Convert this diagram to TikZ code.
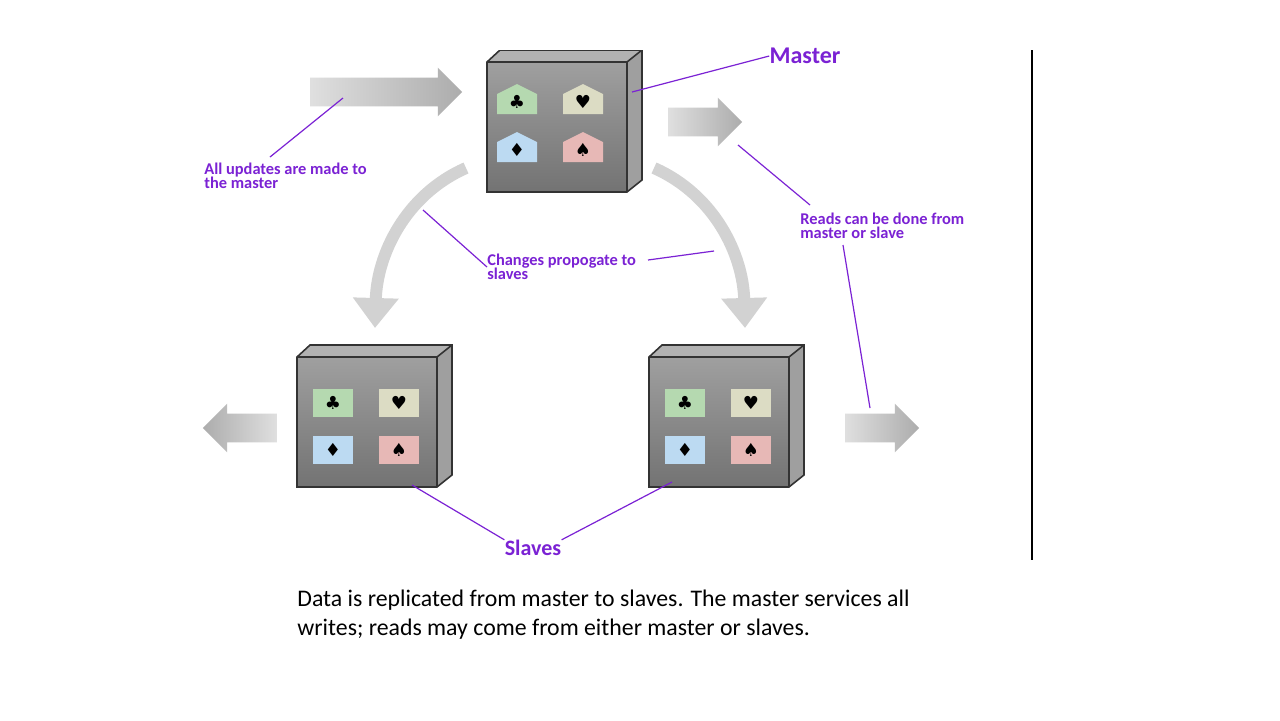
\documentclass[tikz,border=0pt]{standalone}
\usepackage{fontspec}
\setmainfont{Carlito}
\newfontfamily\suits{DejaVu Sans}
\usetikzlibrary{shapes.arrows,arrows.meta}
\definecolor{note}{HTML}{7B22D4}
\definecolor{clubc}{HTML}{B5D9B0}
\definecolor{heartc}{HTML}{DCDCC4}
\definecolor{diamc}{HTML}{BCDAF2}
\definecolor{spadec}{HTML}{E7B8B6}
\tikzset{
  card/.style={fill=#1,minimum width=20pt,minimum height=14pt,inner sep=0pt,font=\suits\fontsize{9}{9}\selectfont},
  suit/.style={font=\suits\fontsize{9}{9}\selectfont,inner sep=0pt},
  blockarrow/.style={single arrow,minimum height=37pt,inner xsep=0pt,inner ysep=7pt,
    single arrow head extend=5pt,left color=gray!25,right color=gray!65},
  flow/.style={gray!35,line width=6pt,-{Triangle[width=22pt,length=15pt]}},
  label/.style={note,font=\bfseries\fontsize{8.2}{8}\selectfont,align=left,anchor=west,inner sep=0pt},
  title/.style={note,font=\bfseries\fontsize{#1}{#1}\selectfont,inner sep=0pt},
  pointer/.style={note,line width=0.6pt}
}
% box with depth: #1 = left x, #2 = top y (front face, px)
\newcommand\databox[2]{
  \fill[gray!60] (#1,#2) -- (#1+13,#2-12) -- (#1+155,#2-12) -- (#1+140,#2) -- cycle;
  \fill[gray!75] (#1+140,#2) -- (#1+155,#2-12) -- (#1+155,#2+118) -- (#1+140,#2+130) -- cycle;
  \shade[top color=gray!75,bottom color=gray!90!black] (#1,#2) rectangle (#1+140,#2+130);
  \draw[black!80,line width=0.8pt] (#1,#2+130) -- (#1,#2) -- (#1+13,#2-12) -- (#1+155,#2-12)
    -- (#1+155,#2+118) -- (#1+140,#2+130) -- cycle (#1,#2) -- (#1+140,#2) -- (#1+140,#2+130)
    (#1+140,#2) -- (#1+155,#2-12);
}
\newcommand\house[3]{
  \fill[#3] (#1-20,#2+14) -- (#1-20,#2-6) -- (#1,#2-16) -- (#1+20,#2-6) -- (#1+20,#2+14) -- cycle;
}
\begin{document}
\begin{tikzpicture}[x=0.5pt,y=-0.5pt]
\useasboundingbox[fill=white] (0,0) rectangle (1280,720);

% master
\begin{scope}
\clip (0,50) rectangle (1280,720);
\databox{487}{62}
\end{scope}
\house{517}{100}{clubc} \house{583}{100}{heartc}
\house{517}{148}{diamc} \house{583}{148}{spadec}
\node[suit] (mc) at (517,102) {♣};
\node[suit] (mh) at (583,102) {♥};
\node[suit] (md) at (517,150) {♦};
\node[suit] (ms) at (583,150) {♠};
\coordinate (master) at (632,92);

% slaves
\databox{297}{357}
\databox{649}{357}
\foreach \x/\n in {297/l,649/r}{
  \node[card=clubc]  (\n c) at (\x+36,403) {♣};
  \node[card=heartc] (\n h) at (\x+102,403) {♥};
  \node[card=diamc]  (\n d) at (\x+36,450) {♦};
  \node[card=spadec] (\n s) at (\x+102,450) {♠};
}
\coordinate (lslave) at (412,485);
\coordinate (rslave) at (672,482);

% block arrows
\node[blockarrow,minimum height=76pt] (write) at (379,92) {};
\node[blockarrow] (mread) at (698,122) {};
\node[blockarrow,shape border rotate=180,left color=gray!65,right color=gray!25] (lread) at (247,428) {};
\node[blockarrow] (rread) at (875,428) {};
\coordinate (writept) at (343,98);
\coordinate (mreadpt) at (738,145);
\coordinate (rreadpt) at (870,408);

% replication
\coordinate (ml) at (466,168);
\coordinate (mr) at (654,168);
\coordinate (sl) at (375,328);
\coordinate (sr) at (745,328);
\draw[flow] (ml) .. controls (405,195) and (377,255) .. (sl);
\draw[flow] (mr) .. controls (715,195) and (743,255) .. (sr);

% labels
\node[label] (upd) at (204,176) {All updates are made to\\[-1pt]the master};
\node[title=12] (mlab) at (805,56) {Master};
\node[label] (reads) at (800,226) {Reads can be done from\\[-1pt]master or slave};
\node[label] (chg) at (487,267) {Changes propogate to\\[-1pt]slaves};
\node[title=11] (slab) at (533,548) {Slaves};

\draw[pointer] (270,157) -- (writept);
\draw[pointer] (mlab.west) -- (master);
\draw[pointer] (810,205) -- (mreadpt);
\draw[pointer] (843,245) -- (rreadpt);
\draw[pointer] (chg.west) -- (423,210);
\draw[pointer] (648,260) -- (714,251);
\draw[pointer] (slab.north west) -- (lslave);
\draw[pointer] (slab.north east) -- (rslave);

% divider
\draw[line width=1pt] (1032,50) -- (1032,560);

\node[anchor=north west,align=left,inner sep=0pt,font=\fontsize{11.9}{14.5}\selectfont] (caption) at (297,590)
  {Data is replicated from master to slaves. The master services all\\writes; reads may come from either master or slaves.};
\end{tikzpicture}
\end{document}
